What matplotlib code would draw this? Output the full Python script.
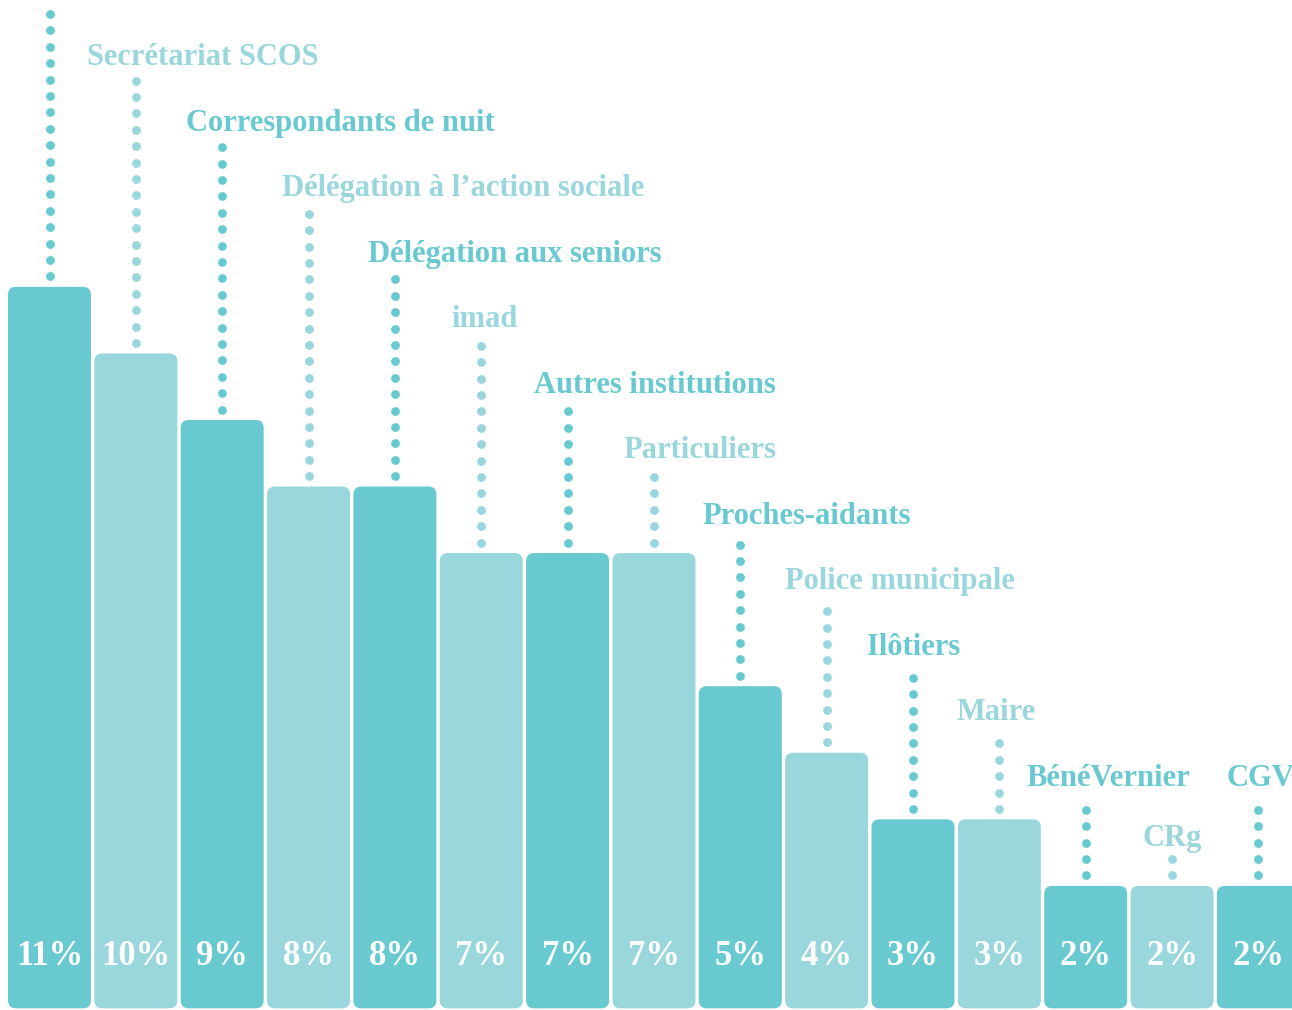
import matplotlib
matplotlib.use("Agg")
import matplotlib.pyplot as plt
from matplotlib.patches import FancyBboxPatch
import numpy as np

# Share of reports by source
sources = [
    "Famille", "Secrétariat SCOS", "Correspondants de nuit",
    "Délégation à l’action sociale", "Délégation aux seniors", "imad",
    "Autres institutions", "Particuliers", "Proches-aidants",
    "Police municipale", "Ilôtiers", "Maire", "BénéVernier", "CRg", "CGV",
]
shares = [11, 10, 9, 8, 8, 7, 7, 7, 5, 4, 3, 3, 2, 2, 2]

# label row (staggered) and horizontal shift of each label, in pixels
label_row = [-0.05, 1, 2, 3, 4, 5, 6, 7, 8, 9, 10, 11, 12, 12.92, 12]
label_dx = [-45, -49, -36, -27, -27, -30, -34, -31, -38, -42, -46, -43, -59, -30, -32]

dark = "#68c9d0"
light = "#9ad7dd"
serif = ["Liberation Serif", "DejaVu Serif"]

W, H = 1292, 1010
fig = plt.figure(figsize=(W / 100, H / 100), dpi=100)
ax = fig.add_axes([0, 0, 1, 1])
pitch = 86.35
px_per_pct = 66.56
ax.set_xlim(-49.5 / pitch, (W - 49.5) / pitch)
ax.set_ylim((1019 - H) / px_per_pct, 1019 / px_per_pct)
ax.axis("off")

bar_w = 83 / pitch
base = 0.16
rx = 8 / pitch
aspect = (8 / px_per_pct) / rx
dot_step = 16.4 / px_per_pct

for i, (name, v) in enumerate(zip(sources, shares)):
    col = dark if i % 2 == 0 else light
    ax.add_patch(FancyBboxPatch((i - bar_w / 2, base), bar_w, v - base,
                                boxstyle=f"round,pad=0,rounding_size={rx}",
                                mutation_aspect=aspect, fc=col, ec="none"))
    ax.text(i, 0.81, f"{v}%", ha="center", va="baseline", color="white",
            fontsize=25, fontweight="bold", family=serif)

    # label above, staggered row by row
    ly = 14.33 - 0.984 * (label_row[i] - 1)
    ax.text(i + label_dx[i] / pitch, ly, name, ha="left", va="baseline",
            color=col, fontsize=22, fontweight="bold", family=serif)

    # dotted leader from the bar top up to the label
    y0 = v - 6 / px_per_pct
    ytop = ly - 12 / px_per_pct
    n = int(np.floor((ytop - y0) / dot_step))
    ys = y0 + dot_step * np.arange(n + 1)
    ax.scatter(np.full(len(ys), i), ys, s=40, color=col, lw=0, zorder=3)

fig.savefig("out.png", dpi=100)
